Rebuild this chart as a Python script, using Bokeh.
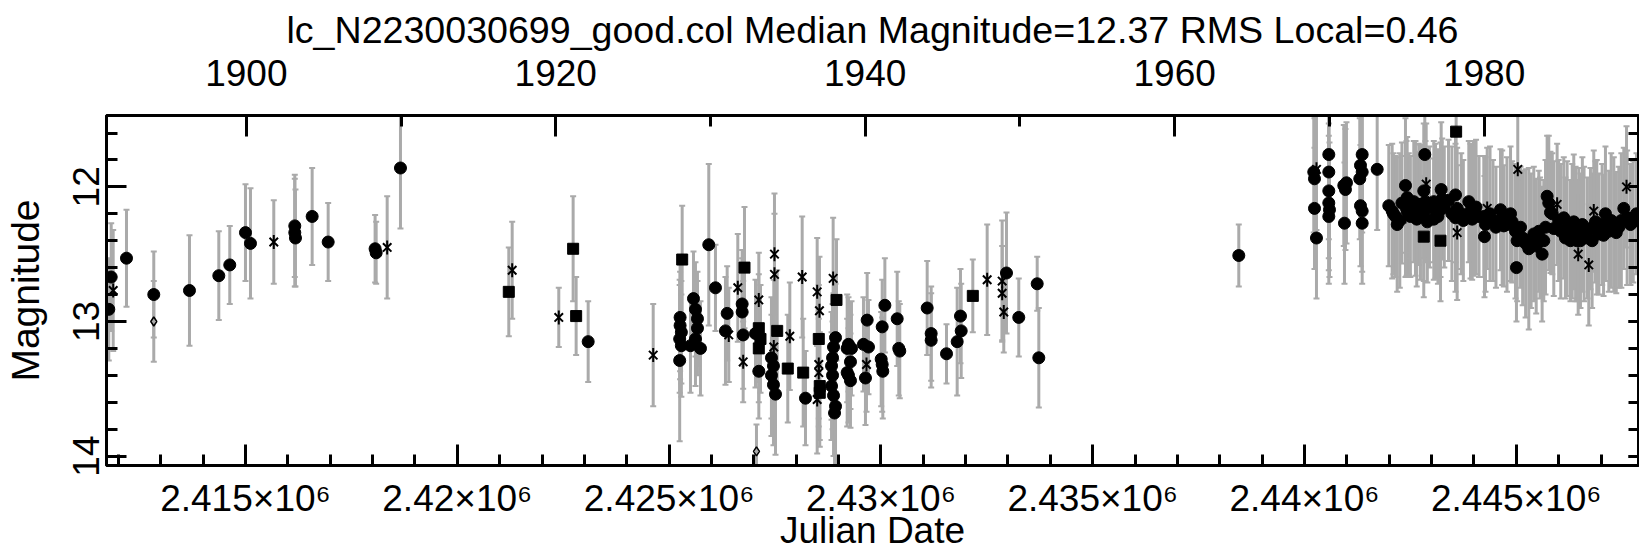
import numpy as np
from bokeh.plotting import figure
from bokeh.models import ColumnDataSource, Range1d, LinearAxis, FixedTicker
from bokeh.embed import file_html
from bokeh.resources import INLINE

# ---------------- texts / ticks ----------------
TITLE = "lc_N2230030699_good.col Median Magnitude=12.37 RMS Local=0.46"
X_LABEL = "Julian Date"
Y_LABEL = "Magnitude"

JD_TICKS = [2415000, 2420000, 2425000, 2430000, 2435000, 2440000, 2445000]
JD_TICK_LABELS = ["2.415×10⁶", "2.42×10⁶", "2.425×10⁶", "2.43×10⁶",
                  "2.435×10⁶", "2.44×10⁶", "2.445×10⁶"]
JD_MINOR = list(range(2412000, 2448000, 1000))

YEAR_TICKS_JD = [2415020, 2422325, 2429630, 2436935, 2444240]
YEAR_TICK_LABELS = ["1900", "1920", "1940", "1960", "1980"]
YEAR_MINOR_JD = [2418673, 2425978, 2433283, 2440588]

MAG_TICKS = [12, 13, 14]
MAG_TICK_LABELS = ["12", "13", "14"]
MAG_MINOR = [11.6, 11.8, 12.0, 12.2, 12.4, 12.6, 12.8, 13.0, 13.2, 13.4, 13.6, 13.8, 14.0]

JD_RANGE = (2411719, 2447885)
MAG_RANGE = (14.07, 11.47)

# ---------------- data ----------------
circle_jd = [
    2411773, 2411830, 2412191, 2412835, 2413678, 2414370, 2414629, 2415000, 2415118,
    2416164, 2416164, 2416180, 2416574, 2416952, 2418060, 2418085, 2418659, 2423090,
    2425260, 2425260, 2425290, 2425250, 2425290, 2425250,
    2425576, 2425623, 2425670, 2425670, 2425623, 2425741, 2425505,
    2425937, 2426095, 2426371, 2426331, 2426725, 2426725, 2426749, 2427040, 2427118,
    2427417, 2427464, 2427417, 2427464, 2427512, 2428220,
    2428929, 2428882, 2428859, 2428835, 2428859, 2428835, 2428882, 2428929, 2428906,
    2429204, 2429204, 2429235, 2429306, 2429282, 2429235, 2429282,
    2429676, 2429589, 2429707, 2429636,
    2430094, 2430031, 2430007, 2430031, 2430045, 2430385, 2430422, 2430446,
    2431093, 2431187, 2431187, 2431549, 2431801, 2431896, 2431879,
    2432965, 2433255, 2433690, 2433728, 2438449,
    2440219, 2440236, 2440236, 2440283,
    2440574, 2440574, 2440574, 2440574, 2440590, 2440574,
    2440928, 2440991, 2440967, 2440944,
    2441362, 2441322, 2441362, 2441305, 2441322, 2441362, 2441362, 2441716,
    2441990, 2442070, 2442148, 2442188, 2442384, 2442424, 2442408, 2442462,
    2442580, 2442620, 2442698, 2442738, 2442840, 2442816, 2442856, 2442816,
    2443053, 2443093, 2443053, 2443227, 2443251, 2443211,
    2443565, 2443604, 2443565, 2443879, 2443919, 2443958,
    2444233, 2444273, 2444249, 2444627, 2444667, 2444706, 2444864, 2444903,
    2445004, 2444981, 2445020, 2445295, 2445413, 2445531, 2445610, 2445649,
    2445728, 2445767, 2445807, 2445885, 2446121, 2446200, 2446279, 2446357,
    2446475, 2446515, 2446751, 2446790, 2446869, 2447027, 2447105, 2447184,
    2447302, 2447538, 2447617, 2447696, 2447838,
    2442300, 2442950, 2443400, 2443700, 2444050, 2444450, 2445150, 2446000,
    2446600, 2446950, 2447420, 2445350, 2446400,
    2442100, 2442250, 2442500, 2442650, 2442900, 2443150, 2443300, 2443480,
    2443750, 2443990, 2444120, 2444380, 2444520, 2444780, 2445100, 2445220,
    2445470, 2445560, 2445690, 2445850, 2446050, 2446160, 2446320, 2446430,
    2446560, 2446680, 2446900, 2447060, 2447240, 2447360, 2447480, 2447760,
]
circle_mag = [
    12.91, 12.67, 12.53, 12.80, 12.77, 12.66, 12.58, 12.34, 12.42,
    12.29, 12.34, 12.38, 12.22, 12.41, 12.46, 12.49, 11.86, 13.15,
    12.97, 13.03, 13.08, 13.13, 13.18, 13.29,
    12.83, 12.91, 12.98, 13.05, 13.13, 13.20, 13.18,
    12.43, 12.75, 12.94, 13.07, 12.87, 12.93, 13.10, 13.09, 13.37,
    13.27, 13.33, 13.40, 13.47, 13.54, 13.57,
    13.12, 13.19, 13.27, 13.33, 13.40, 13.48, 13.55, 13.63, 13.68,
    13.20, 13.38, 13.17, 13.20, 13.30, 13.40, 13.44,
    12.99, 13.17, 13.19, 13.42,
    12.88, 13.04, 13.28, 13.32, 13.37, 12.98, 13.20, 13.22,
    12.90, 13.09, 13.14, 13.24, 13.15, 13.07, 12.96,
    12.64, 12.97, 12.72, 13.27, 12.51,
    11.89, 11.94, 12.16, 12.38,
    11.76, 11.89, 12.03, 12.12, 12.17, 12.22,
    11.99, 11.97, 12.02, 12.27,
    11.76, 11.84, 11.89, 11.94, 12.14, 12.18, 12.27, 11.87,
    12.14, 12.18, 12.22, 12.28, 11.99, 12.08, 12.16, 12.20,
    12.11, 12.16, 12.13, 12.19, 11.76, 12.03, 12.11, 12.20,
    12.11, 12.18, 12.24, 12.02, 12.09, 12.17,
    12.06, 12.16, 12.23, 12.11, 12.18, 12.24,
    12.22, 12.28, 12.37, 12.17, 12.23, 12.29, 12.20, 12.26,
    12.60, 12.33, 12.40, 12.46, 12.35, 12.33, 12.50, 12.40,
    12.07, 12.12, 12.19, 12.31, 12.23, 12.31, 12.40, 12.26,
    12.31, 12.40, 12.31, 12.40, 12.26, 12.28, 12.20, 12.33,
    12.28, 12.16, 12.23, 12.28, 12.20,
    12.12, 12.15, 12.10, 12.20, 12.15, 12.25, 12.38, 12.25,
    12.35, 12.35, 12.30, 12.40, 12.35,
    12.20, 12.25, 12.22, 12.24, 12.26, 12.22, 12.15, 12.20,
    12.25, 12.16, 12.22, 12.20, 12.30, 12.28, 12.30, 12.42,
    12.44, 12.38, 12.30, 12.20, 12.33, 12.38, 12.33, 12.40,
    12.28, 12.38, 12.30, 12.36, 12.25, 12.34, 12.25, 12.26,
]
circle_err = [
    0.38, 0.40, 0.36, 0.32, 0.41, 0.33, 0.29, 0.36, 0.41,
    0.38, 0.40, 0.36, 0.36, 0.29, 0.25, 0.23, 0.45, 0.30,
    0.40, 0.40, 0.38, 0.40, 0.38, 0.60,
    0.35, 0.35, 0.35, 0.35, 0.35, 0.35, 0.35,
    0.60, 0.32, 0.35, 0.40, 0.40, 0.40, 0.40, 0.40, 0.35,
    0.45, 0.45, 0.45, 0.45, 0.45, 0.35,
    0.40, 0.40, 0.40, 0.40, 0.40, 0.40, 0.45, 0.45, 0.45,
    0.40, 0.40, 0.35, 0.35, 0.35, 0.35, 0.35,
    0.35, 0.35, 0.35, 0.35,
    0.35, 0.35, 0.35, 0.35, 0.35, 0.35, 0.35, 0.35,
    0.35, 0.35, 0.35, 0.22, 0.40, 0.35, 0.35,
    0.45, 0.29, 0.20, 0.37, 0.23,
    0.45, 0.45, 0.45, 0.45,
    0.50, 0.50, 0.50, 0.50, 0.50, 0.50,
    0.45, 0.45, 0.45, 0.45,
    0.45, 0.45, 0.45, 0.45, 0.45, 0.45, 0.45, 0.45,
    0.45, 0.50, 0.45, 0.50, 0.50, 0.45, 0.50, 0.45,
    0.45, 0.50, 0.45, 0.50, 0.45, 0.50, 0.45, 0.50,
    0.45, 0.50, 0.45, 0.50, 0.45, 0.50,
    0.50, 0.45, 0.55, 0.45, 0.50, 0.45,
    0.45, 0.50, 0.45, 0.45, 0.50, 0.45, 0.50, 0.45,
    0.40, 0.50, 0.45, 0.60, 0.50, 0.45, 0.50, 0.45,
    0.45, 0.50, 0.45, 0.50, 0.45, 0.50, 0.45, 0.50,
    0.45, 0.50, 0.45, 0.50, 0.45, 0.45, 0.50, 0.45,
    0.50, 0.45, 0.50, 0.45, 0.45,
    0.45, 0.45, 0.45, 0.45, 0.50, 0.45, 0.50, 0.45,
    0.50, 0.45, 0.45, 0.50, 0.50,
    0.45, 0.50, 0.45, 0.50, 0.45, 0.50, 0.45, 0.50,
    0.45, 0.50, 0.45, 0.50, 0.45, 0.50, 0.45, 0.55,
    0.50, 0.45, 0.50, 0.45, 0.50, 0.45, 0.50, 0.45,
    0.50, 0.45, 0.50, 0.45, 0.50, 0.45, 0.50, 0.45,
]

square_jd = [2421216, 2422735, 2422806, 2425309, 2426780, 2427118, 2427158, 2427118,
             2427552, 2427802, 2428166, 2428534, 2428557, 2428557, 2428952, 2432170,
             2443580, 2442816, 2443211]
square_mag = [12.78, 12.46, 12.96, 12.54, 12.60, 13.05, 13.13, 13.20,
              13.07, 13.35, 13.38, 13.13, 13.48, 13.53, 12.84, 12.81,
              11.59, 12.37, 12.40]
square_err = [0.33, 0.39, 0.29, 0.40, 0.45, 0.40, 0.40, 0.40,
              0.45, 0.40, 0.40, 0.40, 0.40, 0.40, 0.45, 0.27,
              0.45, 0.45, 0.45]

star_jd = [2411877, 2415668, 2418345, 2421296, 2422396, 2424625, 2426409, 2426622,
           2426749, 2427118, 2427488, 2427488, 2427472, 2427850, 2428142, 2428496,
           2428550, 2428534, 2428534, 2428496, 2428873, 2429660, 2432509, 2432863,
           2432863, 2432901, 2440283, 2442384, 2442873, 2443604, 2444313, 2445035,
           2445964, 2446461, 2446711, 2446829, 2447602]
star_mag = [12.77, 12.41, 12.45, 12.62, 12.97, 13.25, 13.10, 12.75,
            13.30, 12.84, 12.50, 12.65, 13.19, 13.11, 12.67, 12.78,
            12.92, 13.32, 13.38, 13.58, 12.68, 13.32, 12.69, 12.70,
            12.79, 12.93, 11.87, 12.22, 11.98, 12.34, 12.16, 11.87,
            12.13, 12.50, 12.58, 12.18, 12.00]
star_err = [0.45, 0.31, 0.38, 0.36, 0.22, 0.38, 0.35, 0.40,
            0.30, 0.35, 0.45, 0.45, 0.50, 0.40, 0.45, 0.40,
            0.40, 0.40, 0.40, 0.40, 0.45, 0.35, 0.41, 0.45,
            0.35, 0.30, 0.45, 0.45, 0.45, 0.50, 0.45, 0.45,
            0.45, 0.45, 0.45, 0.45, 0.45]

diamond_jd = [2412835, 2427063]
diamond_mag = [13.00, 13.965]
diamond_err = [0.30, 0.20]

# ---------------- style ----------------
FONT = "Liberation Sans"
GRAY = "#aaaaaa"
FS = "37px"


def make_source(jd, mag, err):
    jd = np.asarray(jd, dtype=float)
    mag = np.asarray(mag, dtype=float)
    err = np.asarray(err, dtype=float)
    return ColumnDataSource(dict(jd=jd, mag=mag, lo=mag - err, hi=mag + err))


p = figure(width=1639, height=553,
           x_range=Range1d(*JD_RANGE), y_range=Range1d(*MAG_RANGE),
           output_backend="svg", toolbar_location=None,
           min_border_left=0, min_border_right=1,
           min_border_top=0, min_border_bottom=0,
           title=TITLE)
p.background_fill_color = "white"
p.border_fill_color = "white"
p.grid.visible = False
p.outline_line_color = "black"
p.outline_line_width = 3

p.title.align = "center"
p.title.text_font = FONT
p.title.text_font_size = "37.6px"
p.title.text_font_style = "normal"
p.title.text_color = "black"
p.title.standoff = 12


def style_axis(ax, major_in, minor_in):
    ax.axis_line_color = "black"
    ax.axis_line_width = 3
    ax.major_tick_line_color = "black"
    ax.minor_tick_line_color = "black"
    ax.major_tick_line_width = 3
    ax.minor_tick_line_width = 3
    ax.major_tick_in = major_in
    ax.major_tick_out = 0
    ax.minor_tick_in = minor_in
    ax.minor_tick_out = 0
    ax.major_label_text_font = FONT
    ax.major_label_text_font_size = FS
    ax.major_label_text_color = "black"
    ax.axis_label_text_font = FONT
    ax.axis_label_text_font_size = FS
    ax.axis_label_text_font_style = "normal"
    ax.axis_label_text_color = "black"


# bottom axis
xb = p.xaxis[0]
xb.ticker = FixedTicker(ticks=JD_TICKS, minor_ticks=JD_MINOR)
xb.major_label_overrides = dict(zip(JD_TICKS, JD_TICK_LABELS))
style_axis(xb, 21, 11)
xb.major_label_standoff = 12
xb.axis_label = X_LABEL
xb.axis_label_standoff = -12

# left axis
yl = p.yaxis[0]
yl.ticker = FixedTicker(ticks=MAG_TICKS, minor_ticks=MAG_MINOR)
yl.major_label_overrides = dict(zip(MAG_TICKS, MAG_TICK_LABELS))
style_axis(yl, 20, 11)
yl.major_label_orientation = "vertical"
yl.major_label_standoff = 7
yl.axis_label = Y_LABEL
yl.axis_label_standoff = 24
yl.axis_label_text_font_size = "39px"

# top axis (years)
xt = LinearAxis(ticker=FixedTicker(ticks=YEAR_TICKS_JD, minor_ticks=YEAR_MINOR_JD))
xt.major_label_overrides = dict(zip(YEAR_TICKS_JD, YEAR_TICK_LABELS))
style_axis(xt, 21, 11)
xt.major_label_standoff = 30
xt.axis_label = None
p.add_layout(xt, "above")

# right axis (ticks only)
yr = LinearAxis(ticker=FixedTicker(ticks=MAG_TICKS, minor_ticks=MAG_MINOR))
style_axis(yr, 10, 10)
yr.major_label_overrides = {t: "" for t in MAG_TICKS}
yr.major_label_text_font_size = "0px"
yr.major_label_standoff = 0
yr.axis_label = None
p.add_layout(yr, "right")

groups = [
    (make_source(circle_jd, circle_mag, circle_err), "circle"),
    (make_source(square_jd, square_mag, square_err), "square"),
    (make_source(star_jd, star_mag, star_err), "star"),
    (make_source(diamond_jd, diamond_mag, diamond_err), "diamond"),
]

# error bars first
for src, _ in groups:
    p.segment(x0="jd", y0="lo", x1="jd", y1="hi", source=src,
              line_color=GRAY, line_width=3)
    p.scatter(x="jd", y="lo", source=src, marker="dash", size=6,
              line_color=GRAY, line_width=2)
    p.scatter(x="jd", y="hi", source=src, marker="dash", size=6,
              line_color=GRAY, line_width=2)

for src, kind in groups:
    if kind == "circle":
        p.scatter(x="jd", y="mag", source=src, marker="circle", size=12,
                  fill_color="black", line_color="black")
    elif kind == "square":
        p.scatter(x="jd", y="mag", source=src, marker="square", size=11,
                  fill_color="black", line_color="black")
    elif kind == "star":
        p.scatter(x="jd", y="mag", source=src, marker="x", size=12,
                  line_color="black", line_width=2)
        p.scatter(x="jd", y="mag", source=src, marker="dash", angle=np.pi / 2,
                  size=14, line_color="black", line_width=2)
    else:
        p.scatter(x="jd", y="mag", source=src, marker="diamond", size=9,
                  fill_color=None, line_color="black", line_width=1.5)

open("out.html", "w").write(file_html(p, INLINE))
